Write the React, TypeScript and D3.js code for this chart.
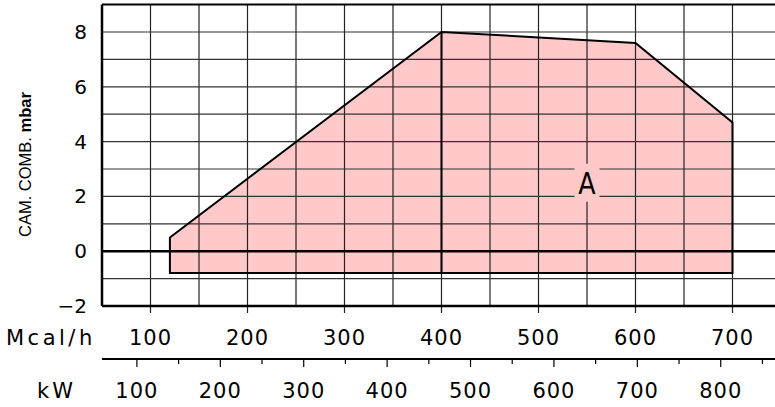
import React, { useRef, useEffect } from 'react';
import * as d3 from 'd3';

// working field of the burner, Mcal/h vs combustion chamber pressure
const fieldMcal = [120, 400, 600, 700, 700, 120];
const fieldMbar = [0.5, 8, 7.6, 4.7, -0.8, -0.8];
const splitMcal = 400;
const splitMbar = [8, -0.8];

const mcalTicks = [100, 200, 300, 400, 500, 600, 700];
const kwTicks = [100, 200, 300, 400, 500, 600, 700, 800];
const mbarTicks = [-2, 0, 2, 4, 6, 8];
const areaLabel = { text: 'A', mcal: 550, mbar: 2.5 };

const KW_PER_MCAL = 1.163;

const App = () => {
  const ref = useRef<SVGSVGElement>(null);

  useEffect(() => {
    const svg = d3.select(ref.current);
    const width = 775;
    svg.selectAll('*').remove();

    const x = d3.scaleLinear().domain([50, 700]).range([102, 732.5]);
    const y = d3.scaleLinear().domain([-2, 8]).range([306, 32]);
    const top = y(9);
    const bottom = y(-2);
    const left = x(50);
    const font = "'DejaVu Sans', sans-serif";
    const pink = '#ffc9c9';

    // pink field
    const pts: [number, number][] = fieldMcal.map((m, i) => [x(m), y(fieldMbar[i])]);
    svg.append('polygon')
      .attr('points', pts.map(p => p.join(',')).join(' '))
      .attr('fill', pink);

    // grid
    const grid = svg.append('g');
    d3.range(100, 800, 50).forEach(v => {
      grid.append('line')
        .attr('x1', x(v)).attr('x2', x(v))
        .attr('y1', top).attr('y2', v % 100 === 0 ? bottom + 7 : bottom)
        .attr('stroke', '#222').attr('stroke-width', 1.2);
    });
    d3.range(-1, 9, 1).forEach(v => {
      grid.append('line')
        .attr('x1', left).attr('x2', width)
        .attr('y1', y(v)).attr('y2', y(v))
        .attr('stroke', v === 0 ? '#000' : '#333')
        .attr('stroke-width', v === 0 ? 2.5 : 1.2);
    });

    // frame
    svg.append('line').attr('x1', left).attr('x2', width).attr('y1', top).attr('y2', top)
      .attr('stroke', '#000').attr('stroke-width', 2);
    svg.append('line').attr('x1', left).attr('x2', width).attr('y1', bottom).attr('y2', bottom)
      .attr('stroke', '#000').attr('stroke-width', 2.5);
    svg.append('line').attr('x1', left).attr('x2', left).attr('y1', top).attr('y2', bottom)
      .attr('stroke', '#000').attr('stroke-width', 2.5);

    // field outline
    svg.append('polygon')
      .attr('points', pts.map(p => p.join(',')).join(' '))
      .attr('fill', 'none')
      .attr('stroke', '#000')
      .attr('stroke-width', 2)
      .attr('stroke-linejoin', 'miter');
    svg.append('line')
      .attr('x1', x(splitMcal)).attr('x2', x(splitMcal))
      .attr('y1', y(splitMbar[0])).attr('y2', y(splitMbar[1]))
      .attr('stroke', '#000').attr('stroke-width', 2);

    // area label, on a pink patch that hides the grid
    const ax = x(areaLabel.mcal);
    const ay = y(areaLabel.mbar);
    svg.append('rect')
      .attr('x', ax - 12.5).attr('y', ay - 19).attr('width', 25).attr('height', 38)
      .attr('fill', pink);
    svg.append('text')
      .attr('x', ax).attr('y', ay + 11.5)
      .attr('text-anchor', 'middle')
      .attr('font-family', font)
      .attr('font-size', 31)
      .attr('transform', `translate(${ax},0) scale(0.82,1) translate(${-ax},0)`)
      .text(areaLabel.text);

    // y tick labels
    svg.append('g').selectAll('text')
      .data(mbarTicks)
      .join('text')
      .attr('x', 87)
      .attr('y', d => y(d) + 7)
      .attr('text-anchor', 'end')
      .attr('font-family', font)
      .attr('font-size', 20)
      .text(d => (d < 0 ? '\u2212' + Math.abs(d) : String(d)));

    // y title
    const yt = svg.append('text')
      .attr('transform', `translate(31,237) rotate(-90)`)
      .attr('text-anchor', 'start')
      .attr('font-family', "'Liberation Sans', Arial, sans-serif")
      .attr('font-size', 16.5);
    yt.append('tspan').text('CAM. COMB.  ');
    yt.append('tspan').attr('font-weight', 'bold').text('mbar');

    // Mcal/h axis labels
    svg.append('g').selectAll('text')
      .data(mcalTicks)
      .join('text')
      .attr('x', d => x(d))
      .attr('y', 345)
      .attr('text-anchor', 'middle')
      .attr('font-family', font)
      .attr('font-size', 21)
      .attr('letter-spacing', 1)
      .text(d => d);
    svg.append('text')
      .attr('x', 6).attr('y', 345)
      .attr('font-family', font)
      .attr('font-size', 21)
      .attr('letter-spacing', 3.5)
      .text('Mcal/h');

    // kW axis
    const kx = (kw: number) => x(kw / KW_PER_MCAL);
    const kwAxisY = 359;
    svg.append('line')
      .attr('x1', left).attr('x2', width)
      .attr('y1', kwAxisY).attr('y2', kwAxisY)
      .attr('stroke', '#000').attr('stroke-width', 2);
    d3.range(100, 900, 50).forEach(v => {
      svg.append('line')
        .attr('x1', kx(v)).attr('x2', kx(v))
        .attr('y1', kwAxisY).attr('y2', kwAxisY + (v % 100 === 0 ? 8 : 5))
        .attr('stroke', '#000').attr('stroke-width', 1.2);
    });
    svg.append('g').selectAll('text')
      .data(kwTicks)
      .join('text')
      .attr('x', d => kx(d))
      .attr('y', 398)
      .attr('text-anchor', 'middle')
      .attr('font-family', font)
      .attr('font-size', 21)
      .attr('letter-spacing', 1)
      .text(d => d);
    svg.append('text')
      .attr('x', 37).attr('y', 398)
      .attr('font-family', font)
      .attr('font-size', 21)
      .attr('letter-spacing', 3)
      .text('kW');
  }, []);

  return (
    <div style={{ position: 'fixed', left: 0, top: 0, width: 775, height: 407, background: '#fff' }}>
      <svg ref={ref} width={775} height={407} style={{ display: 'block' }}></svg>
    </div>
  );
};

export default App;
